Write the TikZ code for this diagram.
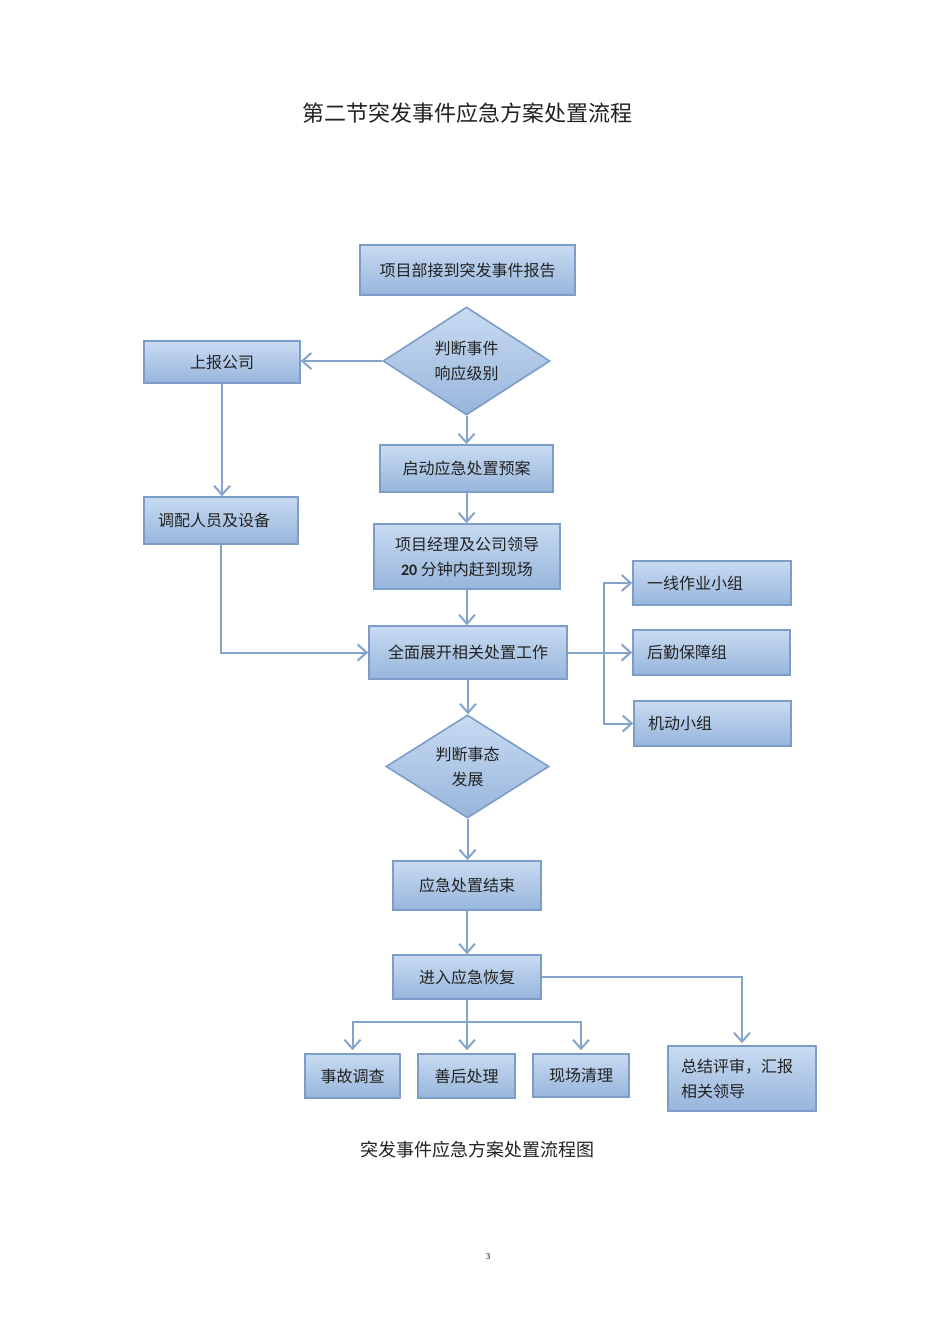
\documentclass[tikz,border=0pt]{standalone}
\usepackage{fontspec}
\setmainfont{Liberation Serif}
\newfontfamily\cjk{Noto Sans CJK SC}
\newfontfamily\numf{Carlito}
\usetikzlibrary{shapes.geometric,arrows.meta}
\definecolor{boxtop}{HTML}{C8DBF2}
\definecolor{boxbot}{HTML}{97B5DB}
\definecolor{boxline}{HTML}{7B9DC8}
\definecolor{arrcol}{HTML}{84A4CB}
\definecolor{txt}{HTML}{222222}
\tikzset{
  x=1pt, y=-1pt,
  box/.style={draw=boxline, line width=1.6pt, top color=boxtop, bottom color=boxbot,
    inner sep=0pt, font=\cjk\fontsize{16}{25}\selectfont, text=txt, align=center},
  lbox/.style={box, align=left, text width=#1},
  dia/.style={diamond, draw=boxline, line width=1.6pt, top color=boxtop, bottom color=boxbot,
    inner sep=0pt, aspect=1.55, font=\cjk\fontsize{16}{25}\selectfont, text=txt, align=center},
  conn/.style={draw=arrcol, line width=2pt},
  arr/.style={conn, -{Straight Barb[length=9pt,width=16pt]}},
  plain/.style={font=\cjk, text=txt}
}
\begin{document}
\begin{tikzpicture}
\useasboundingbox (0,0) rectangle (950,1344);
\fill[white] (0,0) rectangle (950,1344);

\node[plain, font=\cjk\fontsize{22}{26}\selectfont] (title) at (467,113) {第二节突发事件应急方案处置流程};

\node[box, minimum width=215, minimum height=50] (b1) at (467.5,270) {项目部接到突发事件报告};
\node[dia, minimum width=167, minimum height=108] (d1) at (466.5,361) {判断事件\\响应级别};
\node[box, minimum width=156, minimum height=42] (sb) at (222,362) {上报公司};
\node[box, minimum width=173, minimum height=47] (qd) at (466.5,468.5) {启动应急处置预案};
\node[lbox=126, minimum width=154, minimum height=47] (dp) at (221,520.5) {调配人员及设备};
\node[box, minimum width=186, minimum height=65] (xm) at (467,556.5) {项目经理及公司领导\\{\numf\bfseries 20} 分钟内赶到现场};
\node[box, minimum width=198, minimum height=53] (qm) at (468,652.5) {全面展开相关处置工作};
\node[lbox=130, minimum width=158, minimum height=44] (yx) at (712,583) {一线作业小组};
\node[lbox=129, minimum width=157, minimum height=45] (hq) at (711.5,652.5) {后勤保障组};
\node[lbox=129, minimum width=157, minimum height=45] (jd) at (712.5,723.5) {机动小组};
\node[dia, minimum width=163, minimum height=103] (d2) at (467.5,766.5) {判断事态\\发展};
\node[box, minimum width=148, minimum height=49] (js) at (467,885.5) {应急处置结束};
\node[box, minimum width=148, minimum height=44] (jr) at (467,977) {进入应急恢复};
\node[box, minimum width=95, minimum height=44] (sg) at (352.5,1076) {事故调查};
\node[box, minimum width=97, minimum height=44] (sh) at (466.5,1076) {善后处理};
\node[box, minimum width=96, minimum height=43] (xc) at (581,1075.5) {现场清理};
\node[lbox=122, minimum width=148, minimum height=65] (zj) at (742,1078.5) {总结评审，汇报\\相关领导};

\node[plain, font=\cjk\fontsize{18}{22}\selectfont] (cap) at (477,1150) {突发事件应急方案处置流程图};
\node[font=\fontsize{9}{11}\selectfont] (pg) at (488,1257) {3};

% connectors
\draw[arr] (d1.west) -- (d1.west -| sb.east);
\draw[arr] (d1.south) -- (d1.south |- qd.north);
\draw[arr] (qd.south) -- (qd.south |- xm.north);
\draw[arr] (xm.south) -- (xm.south |- qm.north);
\draw[arr] (sb.south) -- (sb.south |- dp.north);
\draw[arr] (dp.south) |- (qm.west);
\coordinate (br) at (604,652.5);
\draw[conn] (qm.east) -- (br);
\draw[arr] (br) |- (yx.west);
\draw[arr] (br) -- (hq.west);
\draw[arr] (br) |- (jd.west);
\draw[arr] (qm.south) -- (qm.south |- d2.north);
\draw[arr] (d2.south) -- (d2.south |- js.north);
\draw[arr] (js.south) -- (jr.north);
\coordinate (hb) at (467,1022);
\draw[conn] (jr.south) -- (hb);
\draw[arr, shorten >=3pt] (hb) -| (sg.north);
\draw[arr, shorten >=3pt] (hb) -- (hb |- sh.north);
\draw[arr, shorten >=3pt] (hb) -| (xc.north);
\draw[arr, shorten >=2pt] (jr.east) -| (zj.north);
\end{tikzpicture}
\end{document}
